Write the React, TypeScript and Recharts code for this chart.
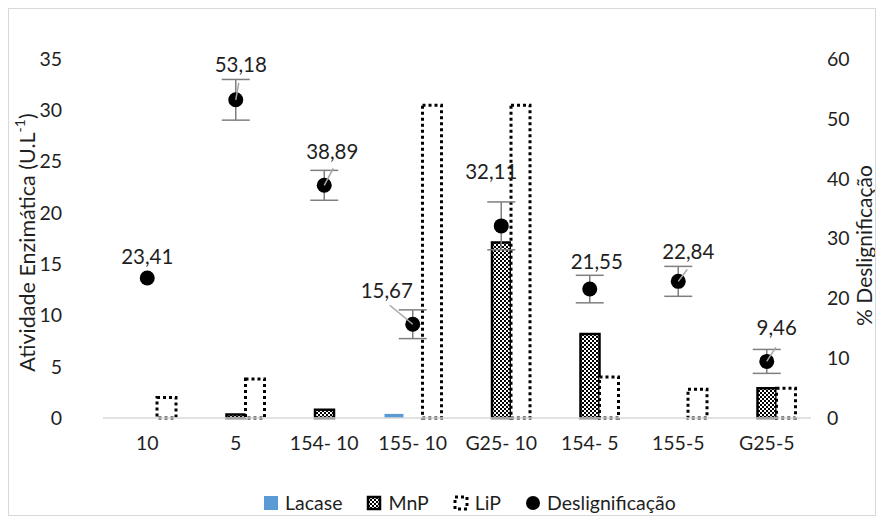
import React from 'react'
import { ComposedChart, Bar, Line, XAxis, YAxis, ErrorBar, LabelList, Legend } from 'recharts'

const categories = ['10', '5', '154- 10', '155- 10', 'G25- 10', '154- 5', '155-5', 'G25-5']
const lacase = [0, 0, 0, 0.4, 0, 0, 0, 0]
const mnp = [0, 0.35, 0.8, 0, 17.1, 8.2, 0, 2.9]
const lip = [2.0, 3.8, 0, 30.5, 30.5, 4.0, 2.8, 2.9]
const deslig = [23.41, 53.18, 38.89, 15.67, 32.11, 21.55, 22.84, 9.46]
const desligErr = [0, 3.4, 2.5, 2.4, 4.0, 2.3, 2.5, 2.0]
const leftTicks = [0, 5, 10, 15, 20, 25, 30, 35]
const rightTicks = [0, 10, 20, 30, 40, 50, 60]

const data = categories.map((name, i) => ({
  name,
  lacase: lacase[i],
  mnp: mnp[i],
  lip: lip[i],
  deslig: deslig[i],
  err: desligErr[i],
}))

// where each data label sits relative to its point (and its leader line end)
const labelPos: { dx: number; dy: number; lx?: number; ly?: number }[] = [
  { dx: 0, dy: -22 },
  { dx: 5, dy: -36, lx: 3, ly: -17 },
  { dx: 8, dy: -34, lx: 9, ly: -17 },
  { dx: -26, dy: -34, lx: -23, ly: -19 },
  { dx: -10, dy: -55 },
  { dx: 7, dy: -28 },
  { dx: 10, dy: -30, lx: 9, ly: -12 },
  { dx: 10, dy: -34, lx: 9, ly: -14 },
]

const FONT = 'Lato, "Open Sans", sans-serif'
const TXT = '#1f1f1f'

const fmt = (v: number) => v.toFixed(2).replace('.', ',')

const DesligLabel = (props: any) => {
  const { value, index } = props
  const vb = props.viewBox || {}
  const x = props.x ?? vb.x
  const y = props.y ?? vb.y
  const p = labelPos[index]
  if (!p || x == null) return null
  return (
    <g>
      {p.lx !== undefined && (
        <line x1={x} y1={y} x2={x + p.lx} y2={y + (p.ly as number)} stroke="#a6a6a6" strokeWidth={1.5} />
      )}
      <text x={x + p.dx} y={y + p.dy} textAnchor="middle" dominantBaseline="central"
        fontFamily={FONT} fontSize={20.5} fill={TXT}>{fmt(value)}</text>
    </g>
  )
}

const LeftTitle = (props: any) => {
  const vb = props.viewBox
  const cx = 19
  const cy = vb.y + vb.height / 2 + 4
  return (
    <text x={cx} y={cy} transform={`rotate(-90 ${cx} ${cy})`} textAnchor="middle" dominantBaseline="central"
      fontFamily={FONT} fontSize={21.5} fill={TXT}>
      Atividade Enzimática (U.L<tspan dy={-8} fontSize={14}>-1</tspan><tspan dy={8}>)</tspan>
    </text>
  )
}

const RightTitle = (props: any) => {
  const vb = props.viewBox
  const cx = 855
  const cy = vb.y + vb.height / 2 + 7
  return (
    <text x={cx} y={cy} transform={`rotate(-90 ${cx} ${cy})`} textAnchor="middle" dominantBaseline="central"
      fontFamily={FONT} fontSize={21} fill={TXT}>
      % Deslignificação
    </text>
  )
}

const legendItems = [
  { key: 'lacase', label: 'Lacase' },
  { key: 'mnp', label: 'MnP' },
  { key: 'lip', label: 'LiP' },
  { key: 'deslig', label: 'Deslignificação' },
]

const LegendIcon = ({ kind }: { kind: string }) => (
  <svg width={16} height={16} style={{ display: 'block' }}>
    {kind === 'lacase' && <rect x={1} y={1} width={14} height={14} fill="#5b9bd5" />}
    {kind === 'mnp' && <rect x={2} y={2} width={12} height={12} fill="url(#checker)" stroke="#000" strokeWidth={2.5} />}
    {kind === 'lip' && <rect x={2} y={2} width={12} height={12} fill="#fff" stroke="#000" strokeWidth={3} strokeDasharray="3 3" />}
    {kind === 'deslig' && <circle cx={8} cy={8} r={7} fill="#000" />}
  </svg>
)

const CustomLegend = () => (
  <div style={{ display: 'flex', alignItems: 'center', gap: 24, fontFamily: FONT, fontSize: 19.5, color: TXT }}>
    {legendItems.map(it => (
      <div key={it.key} style={{ display: 'flex', alignItems: 'center', gap: 6 }}>
        <LegendIcon kind={it.key} />
        <span>{it.label}</span>
      </div>
    ))}
  </div>
)

export default function App() {
  return (
    <div style={{ position: 'relative', width: 868, height: 508 }}>
      <svg width={0} height={0} style={{ position: 'absolute' }}>
        <defs>
          <pattern id="checker" width={4} height={4} patternUnits="userSpaceOnUse">
            <rect width={4} height={4} fill="#fff" />
            <rect x={0} y={0} width={2} height={2} fill="#000" />
            <rect x={2} y={2} width={2} height={2} fill="#000" />
          </pattern>
        </defs>
      </svg>
      <ComposedChart width={868} height={508} data={data} barSize={19} barGap={0}
        margin={{ top: 51, right: 0, bottom: 58, left: 0 }}>
        <XAxis dataKey="name" interval={0} axisLine={{ stroke: '#d9d9d9', strokeWidth: 1.5 }} tickLine={false}
          tickMargin={12} height={40} tick={{ fill: TXT, fontSize: 19.5, fontFamily: FONT }} />
        <YAxis yAxisId="left" domain={[0, 35]} ticks={leftTicks} axisLine={false} tickLine={false} width={95}
          tickMargin={35} tick={{ fill: TXT, fontSize: 19.5, fontFamily: FONT }} label={<LeftTitle />} />
        <YAxis yAxisId="right" orientation="right" domain={[0, 60]} ticks={rightTicks} axisLine={false} tickLine={false}
          width={65} tickMargin={10} tick={{ fill: TXT, fontSize: 19.5, fontFamily: FONT, textAnchor: 'start' }}
          label={<RightTitle />} />
        <Legend layout="horizontal" verticalAlign="middle" align="center" content={<CustomLegend />}
          wrapperStyle={{ top: 483, left: 255, width: 'auto' }} />
        <Bar yAxisId="left" dataKey="lacase" fill="#5b9bd5" isAnimationActive={false} />
        <Bar yAxisId="left" dataKey="mnp" fill="url(#checker)" stroke="#000" strokeWidth={2.5} isAnimationActive={false} />
        <Bar yAxisId="left" dataKey="lip" fill="#fff" stroke="#000" strokeWidth={3} strokeDasharray="3 3" isAnimationActive={false} />
        <Line yAxisId="right" dataKey="deslig" stroke="none" isAnimationActive={false}
          dot={{ r: 7.5, fill: '#000', stroke: '#000', strokeWidth: 0 }} activeDot={false}>
          <ErrorBar dataKey="err" direction="y" width={14} stroke="#7f7f7f" strokeWidth={1.5} />
          <LabelList dataKey="deslig" content={<DesligLabel />} />
        </Line>
      </ComposedChart>
      <div style={{ position: 'absolute', left: 0, top: 0, width: 868, height: 508, boxSizing: 'border-box',
        border: '1px solid #d9d9d9', pointerEvents: 'none' }} />
    </div>
  )
}
